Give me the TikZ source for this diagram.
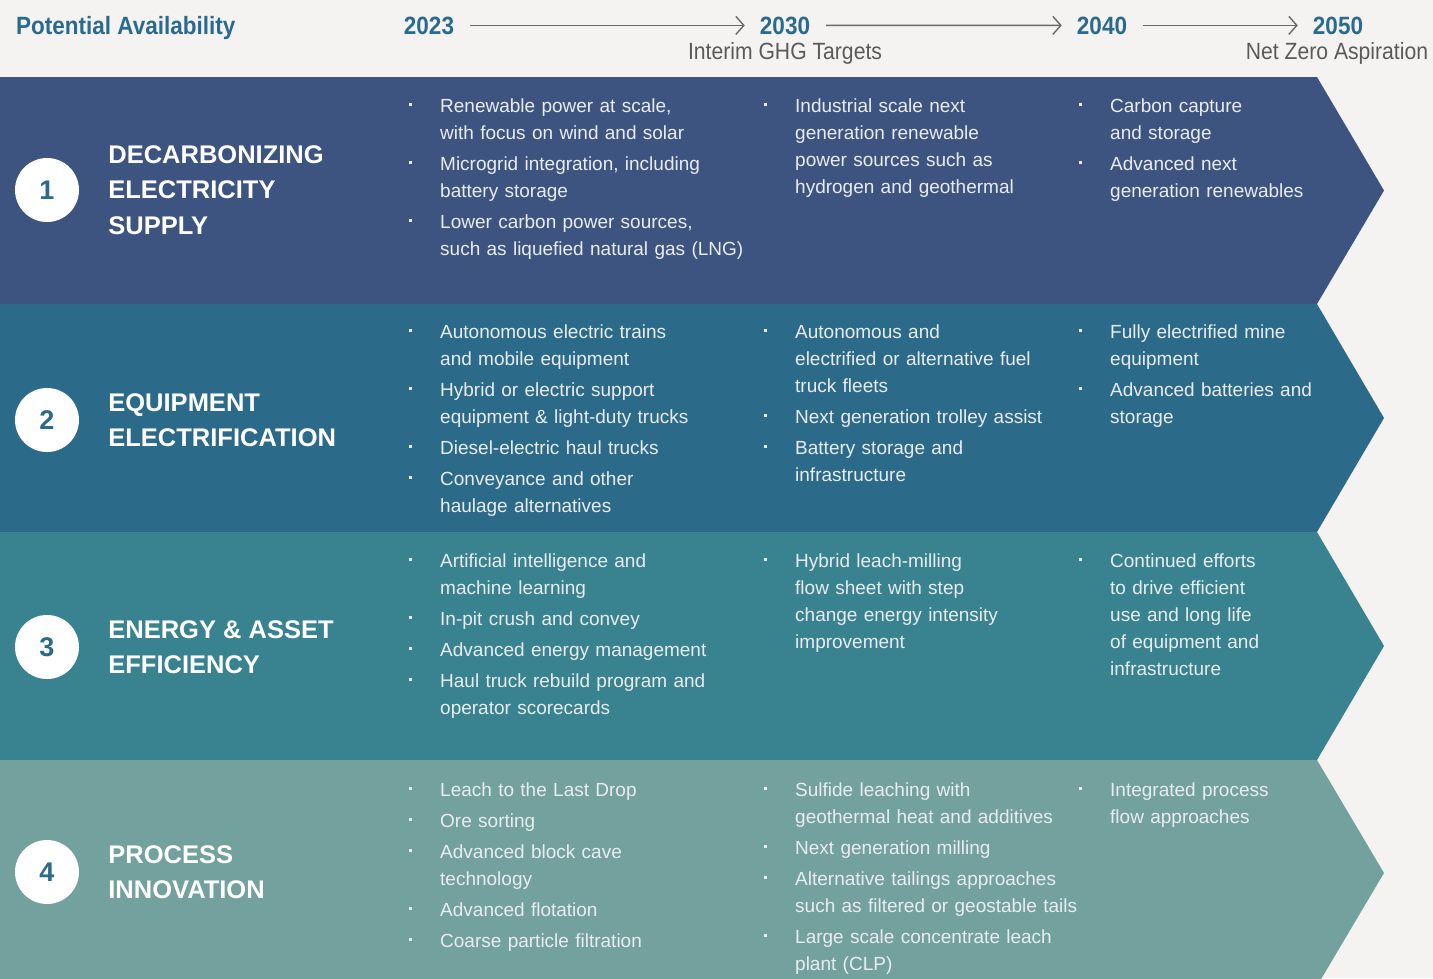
\documentclass[tikz,border=0pt]{standalone}
\usepackage{fontspec}
\setmainfont{Liberation Sans}
\newfontfamily\headfont[FakeStretch=0.9]{Liberation Sans}
\usepackage{xcolor}
\usetikzlibrary{arrows.meta, positioning}

\definecolor{bgpaper}{HTML}{F4F3F1}
\definecolor{bandone}{HTML}{3D5480}
\definecolor{bandtwo}{HTML}{2C6A8A}
\definecolor{bandthree}{HTML}{38838F}
\definecolor{bandfour}{HTML}{73A19D}
\definecolor{headblue}{HTML}{2A6A8F}
\definecolor{numblue}{HTML}{2C6A8A}
\definecolor{arrowgray}{HTML}{6A6A6A}
\definecolor{subgray}{HTML}{5A5A5A}
\definecolor{bodytxt}{HTML}{E9EDF2}

% one bullet point, lines split with \\
\newcommand{\blt}[1]{\setlength{\parskip}{4pt}\noindent\hangindent=31pt\hangafter=1\makebox[31pt][l]{\raisebox{6pt}{\rule{3pt}{3pt}}}{\let\\\newline\strut#1}\par}

\begin{document}
\begin{tikzpicture}[
    x=1pt, y=-1pt,
    stepnum/.style={circle, fill=white, minimum size=64pt, inner sep=0pt, text=numblue, font=\fontsize{27}{27}\selectfont\bfseries},
    title/.style={anchor=west, align=left, inner sep=0pt, text=white, font=\fontsize{25.5}{35.5}\selectfont\bfseries},
    bullets/.style={anchor=north west, inner sep=0pt, text width=#1, align=left, text=bodytxt, font=\fontsize{19}{27}\selectfont},
    year/.style={anchor=base, inner sep=0pt, text=headblue, font=\fontsize{25}{30}\headfont\bfseries},
    milestone/.style={anchor=base, inner sep=0pt, text=subgray, font=\fontsize{23.5}{28}\headfont},
    arrow/.style={-{Straight Barb[length=8pt,width=18pt]}, line width=1.4pt, draw=arrowgray, shorten <=16pt, shorten >=15pt}
]
    \useasboundingbox (0,0) rectangle (1433,978);
    \fill [bgpaper] (0,0) rectangle (1433,978);

    % Header: timeline
    \node (potential) [anchor=base west, inner sep=0pt, text=headblue, font=\fontsize{25}{30}\headfont\bfseries] at (16,34) {Potential Availability};
    \node (y2023) [year] at (429,34) {2023};
    \node (y2030) [year] at (785,34) {2030};
    \node (y2040) [year] at (1102,34) {2040};
    \node (y2050) [year] at (1338,34) {2050};
    \node (interim) [milestone] at (785,59) {Interim GHG Targets};
    \node (netzero) [milestone] at (1337,59) {Net Zero Aspiration};

    \draw [arrow] (y2023) -- (y2030);
    \draw [arrow] (y2030) -- (y2040);
    \draw [arrow] (y2040) -- (y2050);

    % Chevron bands
    \fill [bandone] (0,77) -- (1317,77) -- (1384,190.5) -- (1317,304) -- (0,304) -- cycle;
    \fill [bandtwo] (0,304) -- (1317,304) -- (1384,418) -- (1317,532) -- (0,532) -- cycle;
    \fill [bandthree] (0,532) -- (1317,532) -- (1384,646) -- (1317,760) -- (0,760) -- cycle;
    \fill [bandfour] (0,760) -- (1317,760) -- (1384,873) -- (1317,986) -- (0,986) -- cycle;

    % Row 1: Decarbonizing electricity supply
    \node (num1) [stepnum] at (47,190) {1};
    \node (title1) [title, right=29pt of num1] {DECARBONIZING\\ELECTRICITY\\SUPPLY};
    \node (elec2023) [bullets=380pt] at (409,93) {%
        \blt{Renewable power at scale,\\with focus on wind and solar}
        \blt{Microgrid integration, including\\battery storage}
        \blt{Lower carbon power sources,\\such as liquefied natural gas (LNG)}};
    \node (elec2030) [bullets=360pt] at (764,93) {%
        \blt{Industrial scale next\\generation renewable\\power sources such as\\hydrogen and geothermal}};
    \node (elec2040) [bullets=320pt] at (1079,93) {%
        \blt{Carbon capture\\and storage}
        \blt{Advanced next\\generation renewables}};

    % Row 2: Equipment electrification
    \node (num2) [stepnum] at (47,420) {2};
    \node (title2) [title, right=29pt of num2] {EQUIPMENT\\ELECTRIFICATION};
    \node (equip2023) [bullets=380pt] at (409,319) {%
        \blt{Autonomous electric trains\\and mobile equipment}
        \blt{Hybrid or electric support\\equipment \& light-duty trucks}
        \blt{Diesel-electric haul trucks}
        \blt{Conveyance and other\\haulage alternatives}};
    \node (equip2030) [bullets=360pt] at (764,319) {%
        \blt{Autonomous and\\electrified or alternative fuel\\truck fleets}
        \blt{Next generation trolley assist}
        \blt{Battery storage and\\infrastructure}};
    \node (equip2040) [bullets=320pt] at (1079,319) {%
        \blt{Fully electrified mine\\equipment}
        \blt{Advanced batteries and\\storage}};

    % Row 3: Energy & asset efficiency
    \node (num3) [stepnum] at (47,647) {3};
    \node (title3) [title, right=29pt of num3] {ENERGY \& ASSET\\EFFICIENCY};
    \node (energy2023) [bullets=380pt] at (409,548) {%
        \blt{Artificial intelligence and\\machine learning}
        \blt{In-pit crush and convey}
        \blt{Advanced energy management}
        \blt{Haul truck rebuild program and\\operator scorecards}};
    \node (energy2030) [bullets=360pt] at (764,548) {%
        \blt{Hybrid leach-milling\\flow sheet with step\\change energy intensity\\improvement}};
    \node (energy2040) [bullets=320pt] at (1079,548) {%
        \blt{Continued efforts\\to drive efficient\\use and long life\\of equipment and\\infrastructure}};

    % Row 4: Process innovation
    \node (num4) [stepnum] at (47,872) {4};
    \node (title4) [title, right=29pt of num4] {PROCESS\\INNOVATION};
    \node (proc2023) [bullets=380pt] at (409,777) {%
        \blt{Leach to the Last Drop}
        \blt{Ore sorting}
        \blt{Advanced block cave\\technology}
        \blt{Advanced flotation}
        \blt{Coarse particle filtration}};
    \node (proc2030) [bullets=360pt] at (764,777) {%
        \blt{Sulfide leaching with\\geothermal heat and additives}
        \blt{Next generation milling}
        \blt{Alternative tailings approaches\\such as filtered or geostable tails}
        \blt{Large scale concentrate leach\\plant (CLP)}};
    \node (proc2040) [bullets=320pt] at (1079,777) {%
        \blt{Integrated process\\flow approaches}};

\end{tikzpicture}
\end{document}
